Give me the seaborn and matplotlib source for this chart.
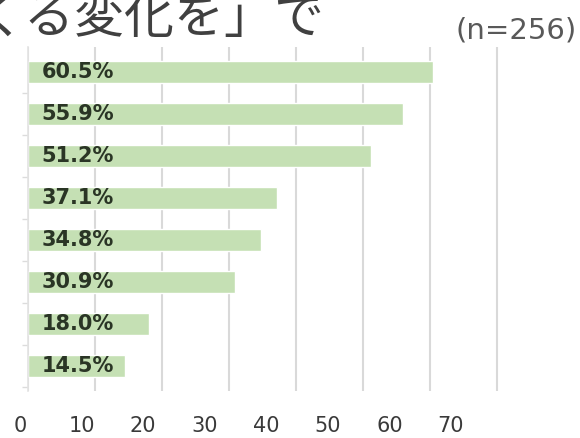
import matplotlib
matplotlib.use("Agg")
import matplotlib.pyplot as plt
import seaborn as sns
import pandas as pd

# Survey results, share of respondents (%)
items = ["A", "B", "C", "D", "E", "F", "G", "H"]
shares = [60.5, 55.9, 51.2, 37.1, 34.8, 30.9, 18.0, 14.5]
tick_values = [0, 10, 20, 30, 40, 50, 60, 70]
heading = "くる変化を」で"
sample_note = "(n=256)"

sns.set_theme(style="white")
plt.rcParams["font.family"] = ["DejaVu Sans"]

df = pd.DataFrame({"item": items, "share": shares})

W, H = 580, 438
fig = plt.figure(figsize=(W / 100, H / 100), dpi=100)

# axes geometry in pixels
x0_px, px_per_unit, xmax = 28, 6.7, 75
top_px, bot_px = 46.8, 391.2
ax = fig.add_axes([x0_px / W, 1 - bot_px / H, px_per_unit * xmax / W, (bot_px - top_px) / H])

sns.barplot(data=df, x="share", y="item", orient="h", color="#c5e0b4",
            saturation=1, width=0.54, ax=ax, zorder=2)

ax.set_xlim(0, xmax)
ax.set_ylim(len(items) - 0.4, -0.6)
ax.set_xticks(tick_values)
ax.xaxis.grid(True, color="#d9d9d9", linewidth=1.5, zorder=0)
ax.set_axisbelow(True)
ax.tick_params(axis="x", length=0, labelbottom=False)
ax.set_yticks([i + 0.5 for i in range(len(items))])
ax.set_yticklabels([])
ax.tick_params(axis="y", length=4, color="#dcdcdc", width=1, left=True)
ax.set_xlabel("")
ax.set_ylabel("")
for s in ["top", "right", "bottom"]:
    ax.spines[s].set_visible(False)
ax.spines["left"].set_color("#e3e3e3")
ax.spines["left"].set_linewidth(1.2)

# value labels inside the bars
for i, v in enumerate(shares):
    ax.text(2.0, i, f"{v:.1f}%", ha="left", va="center", fontsize=15,
            fontweight="bold", color="#2a3525", zorder=3)

# scale labels along the bottom, on their own strip
lab0_px, lab_px_per_unit = 20, 6.157
scale_ax = fig.add_axes([lab0_px / W, 1 - 416 / H, lab_px_per_unit * xmax / W, 0.001])
scale_ax.set_xlim(0, xmax)
scale_ax.set_xticks(tick_values)
scale_ax.set_xticklabels([str(t) for t in tick_values])
scale_ax.set_yticks([])
scale_ax.tick_params(axis="x", length=0, pad=0, labelsize=15, labelcolor="#3a3a3a")
for s in scale_ax.spines.values():
    s.set_visible(False)
scale_ax.patch.set_alpha(0)

# sample size
fig.text(577 / W, 1 - 30 / H, sample_note, ha="right", va="center",
         fontsize=21, color="#595959")

# heading, partly outside the canvas
fig.text(-26 / W, 1 - 33 / H, heading, ha="left", va="baseline",
         fontsize=36, color="#404040", family=["Noto Sans CJK JP", "DejaVu Sans"])

fig.savefig("out.png", dpi=100)
